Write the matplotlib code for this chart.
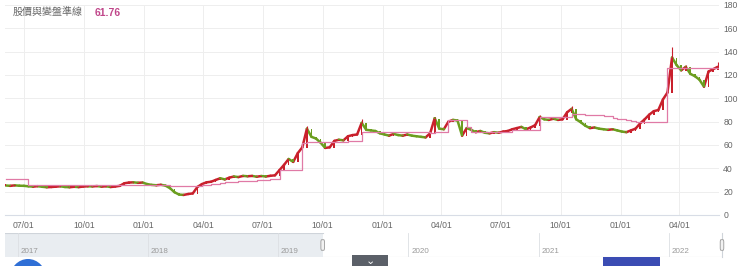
import matplotlib
matplotlib.use("Agg")
import matplotlib.pyplot as plt
import matplotlib.dates as mdates
from matplotlib.patches import Rectangle, Ellipse, FancyBboxPatch
from matplotlib.collections import LineCollection
import pandas as pd

plt.rcParams['font.family'] = ['Liberation Sans', 'Noto Sans CJK TC', 'DejaVu Sans']

# ---- data (weekly) ----
first_week = "2019-06-03"
close = [
    25.3, 25.0, 25.4, 25.1, 25.0, 24.6, 24.3, 24.7, 24.2, 23.8,
    24.0, 24.3, 24.6, 24.0, 23.8, 24.2, 23.9, 24.4, 24.6, 24.5,
    24.8, 24.3, 24.6, 24.0, 24.4, 25.0, 27.2, 27.8, 28.0, 27.6,
    27.8, 26.5, 25.8, 25.5, 25.9, 25.2, 23.0, 19.5, 17.5, 17.2,
    18.0, 18.5, 24.0, 26.5, 28.0, 28.5, 30.0, 31.5, 30.5, 32.0,
    33.0, 32.5, 33.5, 33.2, 33.5, 32.8, 33.4, 33.0, 33.6, 34.0,
    38.5, 43.0, 48.0, 45.5, 53.0, 58.0, 74.0, 67.0, 65.5, 62.0,
    57.5, 58.0, 63.5, 64.5, 64.0, 67.5, 68.5, 69.0, 79.0, 73.0,
    72.5, 72.0, 70.0, 69.0, 68.0, 69.5, 68.5, 68.0, 69.0, 68.0,
    67.5, 67.0, 66.5, 70.0, 83.0, 74.0, 73.5, 80.0, 81.5, 81.0,
    68.0, 74.5, 73.0, 71.0, 72.0, 70.5, 70.0, 71.0, 70.5, 71.5,
    72.0, 73.5, 74.5, 75.5, 73.5, 75.0, 77.0, 84.0, 82.0, 81.5,
    82.5, 81.5, 82.0, 88.0, 91.0, 82.0, 79.5, 76.5, 74.5, 75.0,
    74.0, 73.5, 73.0, 73.5, 72.5, 71.5, 71.0, 72.5, 74.0, 78.5,
    82.0, 86.0, 89.0, 90.0, 99.0, 105.0, 135.0, 128.5, 124.0, 127.0,
    121.0, 119.0, 116.0, 110.0, 123.0, 125.0, 127.0,
]
guide = [
    30.9, 30.9, 30.9, 30.9, 30.9, 25.8, 25.8, 25.8, 25.8, 25.8,
    25.8, 25.8, 25.8, 25.8, 25.3, 25.3, 25.3, 25.3, 25.3, 25.3,
    25.3, 25.3, 25.3, 25.3, 25.3, 25.3, 25.3, 25.7, 25.7, 25.7,
    25.7, 25.7, 25.7, 25.7, 25.7, 25.7, 24.9, 24.9, 24.9, 24.9,
    24.9, 24.9, 24.9, 25.5, 26.0, 26.5, 27.0, 27.5, 28.0, 28.3,
    28.6, 28.8, 29.0, 29.2, 29.5, 29.8, 30.0, 30.2, 30.6, 31.2,
    38.6, 38.6, 38.6, 38.6, 38.6, 62.0, 62.5, 62.5, 62.5, 62.5,
    62.8, 62.8, 63.0, 63.0, 63.0, 63.2, 63.5, 63.5, 71.4, 71.4,
    71.4, 71.4, 71.4, 71.4, 71.4, 71.4, 71.4, 71.4, 71.4, 71.4,
    71.4, 71.4, 71.4, 70.5, 71.4, 71.4, 71.4, 81.4, 81.4, 81.4,
    81.4, 75.7, 71.4, 71.4, 71.4, 71.4, 71.4, 71.4, 71.4, 71.4,
    71.4, 72.9, 72.9, 72.9, 72.9, 72.9, 72.9, 84.0, 84.0, 84.0,
    84.0, 84.0, 84.0, 84.0, 86.5, 86.3, 86.2, 86.0, 85.8, 85.6,
    85.4, 85.2, 85.0, 83.0, 82.5, 82.0, 81.5, 81.0, 80.0, 80.0,
    80.0, 80.0, 80.0, 80.0, 80.0, 125.7, 125.7, 125.7, 125.7, 125.7,
    125.7, 125.7, 125.7, 125.7, 125.7, 125.7, 125.7,
]
# a few visible upper shadows (week index, high)
wick_weeks = [66, 78, 94, 117, 124, 146, 149, 156]
wick_highs = [76.0, 82.5, 84.0, 86.0, 93.5, 144.0, 128.5, 131.0]

tick_dates = ["2019-07-01", "2019-10-01", "2020-01-01", "2020-04-01",
              "2020-07-01", "2020-10-01", "2021-01-01", "2021-04-01",
              "2021-07-01", "2021-10-01", "2022-01-01", "2022-04-01"]
nav_years = ["2017", "2018", "2019", "2020", "2021", "2022"]
title_text = "股價與變盤準線"
title_value = "61.76"

RED = '#c9202c'
GREEN = '#6b9e1f'
PINK = '#e07aa6'

dates = pd.date_range(first_week, periods=len(close), freq="7D")
opens = [close[0]] + close[:-1]
xs = mdates.date2num(dates)

W, H = 740, 266
fig = plt.figure(figsize=(W / 100, H / 100), dpi=100)

# ---- main chart ----
ax = fig.add_axes([5 / W, 51 / H, 714 / W, 210 / H])

# price as a jagged red/green band (up = red, down = green)
segs, cols = [], []
for i in range(1, len(close)):
    segs.append([(xs[i - 1], close[i - 1]), (xs[i], close[i])])
    cols.append(RED if close[i] >= close[i - 1] else GREEN)
ax.add_collection(LineCollection(segs, colors=cols, linewidths=1.8, zorder=3,
                                 capstyle='round'))
for x, o, c in zip(xs, opens, close):
    col = RED if c >= o else GREEN
    lo, hi = min(o, c), max(o, c)
    ax.bar(x, max(hi - lo, 1.2), bottom=lo - 0.3, width=2.5, color=col,
           linewidth=0, zorder=3)
for i, h in zip(wick_weeks, wick_highs):
    col = RED if close[i] >= opens[i] else GREEN
    ax.vlines(xs[i], close[i], h, color=col, lw=0.8, zorder=3)
ax.step(dates, guide, where='post', color=PINK, lw=0.9, zorder=4)

ax.set_xlim(pd.Timestamp("2019-06-02"), pd.Timestamp("2022-06-01"))
ax.set_ylim(0, 180)
ax.set_yticks(range(0, 181, 20))
ax.yaxis.tick_right()
ax.set_xticks(pd.to_datetime(tick_dates))
ax.xaxis.set_major_formatter(mdates.DateFormatter('%m/%d'))
ax.tick_params(axis='both', length=0, labelsize=6.2, colors='#666666')
ax.tick_params(axis='y', pad=3)
ax.tick_params(axis='x', pad=4)
ax.grid(True, color='#eeeeee', lw=0.7)
for s in ['top', 'left', 'right']:
    ax.spines[s].set_visible(False)
ax.spines['bottom'].set_color('#d8dde6')
ax.set_axisbelow(True)

fig.text(13 / W, 1 - 13 / H, title_text, fontsize=7.2, color='#666666', va='center')
fig.text(95 / W, 1 - 13 / H, title_value, fontsize=7.5, color='#c0468a',
         fontweight='bold', va='center')

# ---- navigator ----
nav_lo, nav_hi = pd.Timestamp("2016-11-26"), pd.Timestamp("2022-05-30")
nav = fig.add_axes([5 / W, 9 / H, 717 / W, 24 / H])
nav.set_xlim(nav_lo, nav_hi)
nav.set_ylim(0, 1)
nav.axis('off')
sel_start = pd.Timestamp("2019-05-06")
nav.axvspan(nav_lo, sel_start, color='#e9edf1', lw=0)
nav.plot([nav_lo, sel_start], [0.99, 0.99], color='#cfd4da', lw=0.8)
nav.plot([sel_start, nav_hi], [0.01, 0.01], color='#cfd4da', lw=0.8)
nav.plot([nav_hi, nav_hi], [0, 1], color='#cfd4da', lw=0.8, clip_on=False)
for y in nav_years:
    d = pd.Timestamp(f"{y}-01-01")
    nav.plot([d, d], [0, 1], color='#dcdfe3', lw=0.6)
    nav.text(d + pd.Timedelta(days=8), 0.22, y, fontsize=5.8, color='#999999', va='center')
for d in [sel_start, nav_hi]:
    nav.add_patch(FancyBboxPatch((mdates.date2num(d) - 5, 0.28), 10, 0.44,
                                 boxstyle="round,pad=0,rounding_size=2",
                                 fc='#f2f2f2', ec='#999999', lw=0.6, zorder=5,
                                 mutation_aspect=0.05, clip_on=False))

# ---- bottom widgets ----
fig.add_artist(Rectangle((352 / W, 0), 36 / W, 11 / H, transform=fig.transFigure,
                         color='#5b6068', lw=0))
fig.text(370 / W, 5 / H, '⌄', fontsize=8, color='white', ha='center', va='center',
         family='DejaVu Sans')
fig.add_artist(Ellipse((28 / W, -12 / H), 36 / W, 38 / H, transform=fig.transFigure,
                       color='#2f6fd6', lw=0))
fig.add_artist(Rectangle((603 / W, 0), 57 / W, 9 / H, transform=fig.transFigure,
                         color='#3b4cb3', lw=0))

plt.savefig('out.png', dpi=100)
